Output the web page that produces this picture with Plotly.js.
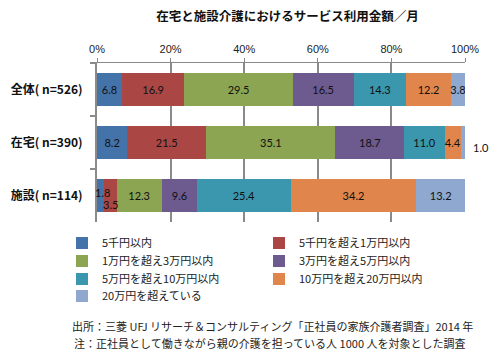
<!DOCTYPE html>
<html><head><meta charset="utf-8">
<script src="https://cdn.plot.ly/plotly-3.0.1.min.js"></script>
<style>body{margin:0;background:#fff}#chart{width:500px;height:360px}</style>
</head><body><div id="chart"></div>
<script>
const categories = ["全体( n=526)", "在宅( n=390)", "施設( n=114)"];
const seriesNames = ["5千円以内", "5千円を超え1万円以内", "1万円を超え3万円以内", "3万円を超え5万円以内", "5万円を超え10万円以内", "10万円を超え20万円以内", "20万円を超えている"];
const s1 = [6.8, 8.2, 1.8];
const s2 = [16.9, 21.5, 3.5];
const s3 = [29.5, 35.1, 12.3];
const s4 = [16.5, 18.7, 9.6];
const s5 = [14.3, 11.0, 25.4];
const s6 = [12.2, 4.4, 34.2];
const s7 = [3.8, 1.0, 13.2];
const xTickVals = [0, 20, 40, 60, 80, 100];
const colors = ["#4473A9", "#AA4744", "#8BA553", "#6D5A8F", "#3A97AE", "#E0854B", "#8EA8CF"];
const series = [s1, s2, s3, s4, s5, s6, s7];

// labels drawn outside the bars (by series index and category index), with pixel offsets
const outsideLabels = [
  {s: 0, c: 2, dx: 2, dy: 3},
  {s: 1, c: 2, dx: 0, dy: -9},
  {s: 6, c: 1, dx: 18, dy: -5}
];
const isOutside = (si, ci) => outsideLabels.some(o => o.s === si && o.c === ci);

// legend grid: two columns, four rows (one legend box per entry)
const legendColX = [62, 259];
const legendRowY = [243, 261, 279, 296];
const legendIds = seriesNames.map((_, i) => i === 0 ? "legend" : "legend" + (i + 1));

const labelFont = {family: "Lato, 'Liberation Sans', sans-serif", size: 11, color: "#111"};
const traces = series.map((vals, si) => ({
  type: "bar", orientation: "h", name: seriesNames[si], legend: legendIds[si],
  y: categories, x: vals,
  marker: {color: colors[si], line: {width: 0}},
  text: vals.map((v, ci) => isOutside(si, ci) ? "" : v.toFixed(1)),
  textposition: "inside", insidetextanchor: "middle", constraintext: "none", textangle: 0,
  textfont: labelFont, hoverinfo: "none"
}));

const annotations = outsideLabels.map(o => {
  let cum = 0;
  for (let k = 0; k < o.s; k++) cum += series[k][o.c];
  const v = series[o.s][o.c];
  return {x: cum + v / 2, y: categories[o.c], xref: "x", yref: "y", text: v.toFixed(1),
    showarrow: false, xshift: o.dx, yshift: o.dy, font: labelFont};
});

annotations.push({xref: "paper", yref: "paper", x: -0.0734, y: -0.654, xanchor: "left", yanchor: "middle",
  text: "出所：三菱 UFJ リサーチ＆コンサルティング「正社員の家族介護者調査」2014 年", showarrow: false,
  font: {family: "'Noto Sans CJK JP', sans-serif", size: 11, color: "#222"}});
annotations.push({xref: "paper", yref: "paper", x: -0.068, y: -0.76, xanchor: "left", yanchor: "middle",
  text: "注：正社員として働きながら親の介護を担っている人 1000 人を対象とした調査", showarrow: false,
  font: {family: "'Noto Sans CJK JP', sans-serif", size: 11, color: "#222"}});

const layout = {
  width: 500, height: 360,
  margin: {l: 97, r: 35, t: 63, b: 138, autoexpand: false},
  paper_bgcolor: "#fff", plot_bgcolor: "#fff",
  barmode: "stack", bargap: 0.36,
  showlegend: true,
  title: {text: "在宅と施設介護におけるサービス利用金額／月", x: 0.575, xanchor: "center", xref: "container",
    y: 0.953, yanchor: "middle", yref: "container",
    font: {family: "'Noto Sans CJK JP', sans-serif", size: 12.5, color: "#111", weight: "bold"}},
  xaxis: {side: "top", range: [0, 100], tickvals: xTickVals, ticktext: xTickVals.map(v => v + "%"),
    showgrid: true, gridcolor: "#8a8a8a", gridwidth: 2, zeroline: false,
    showline: true, linecolor: "#8a8a8a", linewidth: 1.5, ticks: "outside", ticklen: 4, tickcolor: "#8a8a8a",
    tickfont: {family: "'Liberation Sans', sans-serif", size: 11, color: "#222"}, fixedrange: true},
  yaxis: {autorange: "reversed", type: "category", showline: true, linecolor: "#8a8a8a", linewidth: 2,
    ticks: "outside", tickson: "boundaries", ticklen: 5, tickcolor: "#8a8a8a", tickwidth: 2,
    ticklabelstandoff: 10, showgrid: false, zeroline: false,
    tickfont: {family: "'Noto Sans CJK JP', sans-serif", size: 12, color: "#111", weight: "bold"}, fixedrange: true},
  annotations: annotations
};
legendIds.forEach((id, i) => {
  layout[id] = {orientation: "v", xref: "container", yref: "container",
    x: legendColX[i % 2] / 500, y: 1 - legendRowY[Math.floor(i / 2)] / 360,
    xanchor: "left", yanchor: "middle", bgcolor: "rgba(0,0,0,0)", borderwidth: 0,
    font: {family: "'Noto Sans CJK JP', sans-serif", size: 11, color: "#222"}, itemclick: false};
});
Plotly.newPlot("chart", traces, layout, {displayModeBar: false, staticPlot: true});
</script></body></html>
